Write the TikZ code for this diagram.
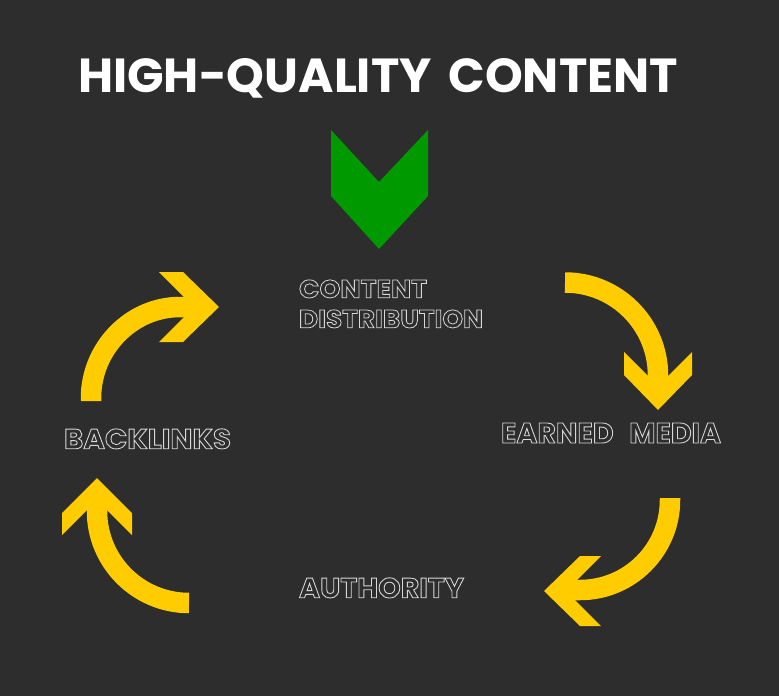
\documentclass[tikz,border=0pt]{standalone}
\usepackage{fontspec}
\usepackage{graphicx}
\newfontfamily\pop{Poppins}
\definecolor{bg}{HTML}{2D2D2D}
\definecolor{ylw}{HTML}{FFCC00}
\definecolor{grn}{RGB}{0,153,0}
\definecolor{outl}{HTML}{D8D8D8}
\newcommand{\strokedtext}[1]{\special{pdf:literal direct 1 Tr 0.8 w}#1\special{pdf:literal direct 0 Tr}}
\newcommand{\outlined}[3]{\resizebox{#1pt}{#2pt}{\pop\bfseries\fontsize{26}{26}\selectfont\color{outl}\strokedtext{#3}}}
\tikzset{
  lbl/.style={anchor=south west, inner sep=0pt, outer sep=0pt},
  shaft/.style={draw=ylw, line width=20.5pt, line cap=butt},
  head/.style={fill=ylw},
}
\begin{document}
\begin{tikzpicture}[x=1pt,y=-1pt]
\path[fill=bg] (0,0) rectangle (779,696);
\useasboundingbox (0,0) rectangle (779,696);
% title
\node[lbl, text=white] (title) at (78,98) {\resizebox{600pt}{34pt}{\pop\bfseries HIGH-QUALITY\hspace{0.35em}CONTENT}};
% green chevron
\fill[grn] (331,130) -- (379,182) -- (428,130) -- (428,196) -- (379,249) -- (331,196) -- cycle;
% labels
\node[lbl] (content) at (299,298) {\outlined{128}{18}{CONTENT}};
\node[lbl] (distribution) at (299,328) {\outlined{184}{18}{DISTRIBUTION}};
\node[lbl] (earned) at (501,443) {\outlined{220}{20}{EARNED\hspace{0.55em}MEDIA}};
\node[lbl] (backlinks) at (64,449) {\outlined{167}{20}{BACKLINKS}};
\node[lbl] (authority) at (299,598) {\outlined{165}{20}{AUTHORITY}};
% arrow 1: backlinks -> content
\draw[shaft] (91,401) -- (91,398) .. controls (91,348.8) and (130.8,307) .. (180,307) -- (196,307);
\fill[head] (159,272) -- (183,272) -- (219,307) -- (183,342) -- (159,342) -- (194,307) -- cycle;
% arrow 2: content -> earned media
\draw[shaft] (565,282.5) .. controls (616.4,282.5) and (658,324.1) .. (658,375.5) -- (658,390);
\fill[head] (624,352) -- (658,386) -- (692,352) -- (692,375) -- (658,410) -- (624,375) -- cycle;
% arrow 3: earned media -> authority
\draw[shaft] (670,498) -- (670,500) .. controls (670,549.7) and (629.7,590) .. (580,590) -- (565,590);
\fill[head] (580,556) -- (601,556) -- (566,591) -- (601,626) -- (580,626) -- (544,591) -- cycle;
% arrow 4: authority -> backlinks
\draw[shaft] (189,603) .. controls (138.2,603) and (97,561.8) .. (97,511) -- (97,497);
\fill[head] (62,513) -- (97,478) -- (132,513) -- (132,535) -- (97,500) -- (62,535) -- cycle;
\end{tikzpicture}
\end{document}
